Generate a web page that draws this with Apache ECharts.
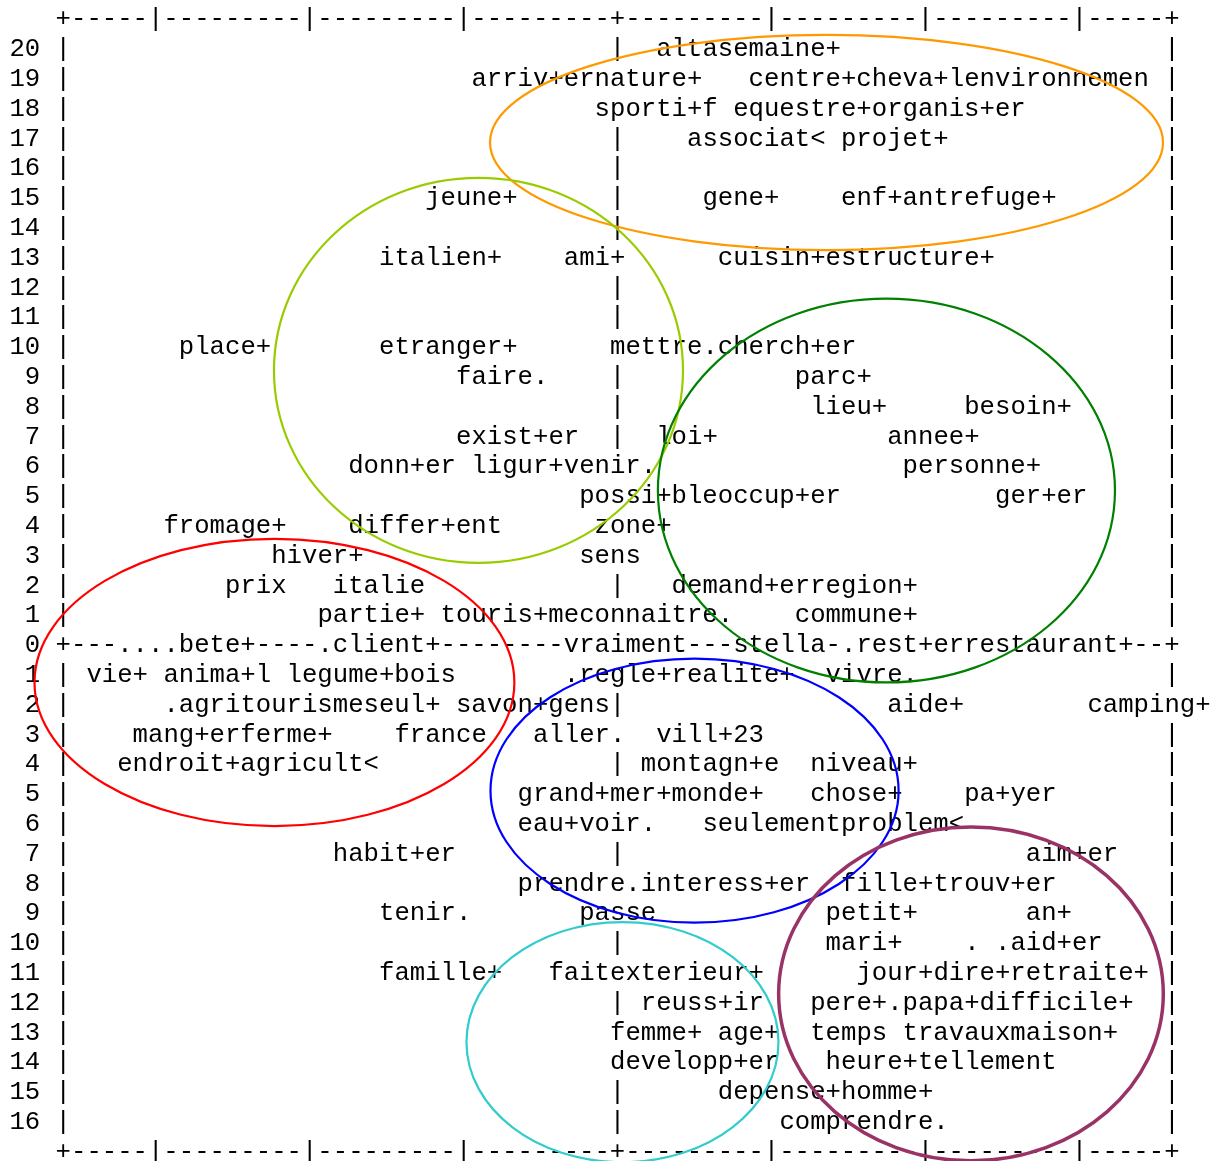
<!DOCTYPE html>
<html>
<head>
<meta charset="utf-8">
<script src="https://cdn.jsdelivr.net/npm/echarts@6/dist/echarts.min.js"></script>
<style>
html, body { margin: 0; padding: 0; background: #fff; }
#chart { width: 1223px; height: 1161px; }
</style>
</head>
<body>
<div id="chart"></div>
<script>
// row tick labels, top (20) to bottom (-16)
const rowValues = [20, 19, 18, 17, 16, 15, 14, 13, 12, 11, 10, 9, 8, 7, 6, 5, 4, 3, 2, 1, 0,
  -1, -2, -3, -4, -5, -6, -7, -8, -9, -10, -11, -12, -13, -14, -15, -16]
const rowLabels = ["20", "19", "18", "17", "16", "15", "14", "13", "12", "11", "10", "9", "8", "7", "6", "5", "4", "3", "2", "1", "0",
  "1", "2", "3", "4", "5", "6", "7", "8", "9", "10", "11", "12", "13", "14", "15", "16"]

// words: [text, column, row]
const words = [
  ["altasemaine+", 42, 20],
  ["arriv+ernature+", 30, 19], ["centre+cheva+lenvironnemen", 48, 19],
  ["sporti+f equestre+organis+er", 38, 18],
  ["associat< projet+", 44, 17],
  ["jeune+", 27, 15], ["gene+", 45, 15], ["enf+antrefuge+", 54, 15],
  ["italien+", 24, 13], ["ami+", 36, 13], ["cuisin+estructure+", 46, 13],
  ["place+", 11, 10], ["etranger+", 24, 10], ["mettre.cherch+er", 39, 10],
  ["faire.", 29, 9], ["parc+", 51, 9],
  ["lieu+", 52, 8], ["besoin+", 62, 8],
  ["exist+er", 29, 7], ["loi+", 42, 7], ["annee+", 57, 7],
  ["donn+er ligur+venir.", 22, 6], ["personne+", 58, 6],
  ["possi+bleoccup+er", 37, 5], ["ger+er", 64, 5],
  ["fromage+", 10, 4], ["differ+ent", 22, 4], ["zone+", 38, 4],
  ["hiver+", 17, 3], ["sens", 37, 3],
  ["prix", 14, 2], ["italie", 21, 2], ["demand+erregion+", 43, 2],
  ["partie+", 20, 1], ["touris+meconnaitre.", 28, 1], ["commune+", 51, 1],
  ["....bete+", 7, 0], [".client+", 20, 0], ["vraiment", 36, 0], ["stella", 47, 0], [".rest+errestaurant+", 54, 0],
  ["vie+ anima+l legume+bois", 5, -1], [".regle+realite+", 36, -1], ["vivre.", 53, -1],
  [".agritourismeseul+ savon+gens", 10, -2], ["aide+", 57, -2], ["camping+", 70, -2],
  ["mang+erferme+", 8, -3], ["france", 25, -3], ["aller.", 34, -3], ["vill+23", 42, -3],
  ["endroit+agricult<", 7, -4], ["montagn+e", 41, -4], ["niveau+", 52, -4],
  ["grand+mer+monde+", 33, -5], ["chose+", 52, -5], ["pa+yer", 62, -5],
  ["eau+voir.", 33, -6], ["seulementproblem<", 45, -6],
  ["habit+er", 21, -7], ["aim+er", 66, -7],
  ["prendre.interess+er", 33, -8], ["fille+trouv+er", 54, -8],
  ["tenir.", 24, -9], ["passe", 37, -9], ["petit+", 53, -9], ["an+", 66, -9],
  ["mari+", 53, -10], [". .aid+er", 62, -10],
  ["famille+", 24, -11], ["faitexterieur+", 35, -11], ["jour+dire+retraite+", 55, -11],
  ["reuss+ir", 41, -12], ["pere+.papa+difficile+", 52, -12],
  ["femme+ age+", 39, -13], ["temps travauxmaison+", 52, -13],
  ["developp+er", 39, -14], ["heure+tellement", 53, -14],
  ["depense+homme+", 46, -15],
  ["comprendre.", 50, -16],
]

// class ellipses: centre [col, row], radii [cols, rows]
const classCentres = [[53.06, 16.88], [30.46, 9.23], [56.95, 5.2], [17.21, -1.24], [44.49, -4.87], [39.81, -13.31], [62.44, -11.69]]
const classRadii = [[21.85, 3.61], [13.28, 6.46], [14.84, 6.44], [15.58, 4.82], [13.25, 4.43], [10.13, 4.03], [12.49, 5.6]]
const classColors = ["#ff9900", "#99cc00", "#008000", "#ff0000", "#0000ff", "#33cccc", "#993366"]
const classWidths = [2.2, 2.2, 2.2, 2.2, 2.2, 2.2, 3.5]

const borderLine = "+-----|---------|---------|---------+---------|---------|---------|-----+"
const FIRST_COL = 3
const LAST_COL = 75
const MID_COL = 39
const TOP_ROW = 21
const BOTTOM_ROW = -17

const FONT = "'Liberation Mono', 'Courier New', monospace"
const FONT_SIZE = 25.67
const CW = 15.4
const RH = 29.8

// frame characters, then blanked where a word overwrites them
const frame = {}
rowValues.forEach((r) => {
  const n = LAST_COL - FIRST_COL + 1
  const arr = new Array(n).fill(r === 0 ? "-" : " ")
  arr[0] = r === 0 ? "+" : "|"
  arr[n - 1] = r === 0 ? "+" : "|"
  arr[MID_COL - FIRST_COL] = r === 0 ? "+" : "|"
  frame[r] = arr
})
words.forEach(([t, c, r]) => {
  for (let i = 0; i < t.length; i++) {
    const k = c + i - FIRST_COL
    if (frame[r] && k >= 0 && k < frame[r].length) frame[r][k] = " "
  }
})
const frameData = [
  { name: borderLine, value: [FIRST_COL, TOP_ROW] },
  { name: borderLine, value: [FIRST_COL, BOTTOM_ROW] },
]
rowValues.forEach((r) => frameData.push({ name: frame[r].join(""), value: [FIRST_COL, r] }))

const textLabel = {
	show: true,
	position: "right",
	distance: 0,
	formatter: (p) => p.name,
	color: "#000",
	opacity: 1,
	fontFamily: FONT,
	fontSize: FONT_SIZE,
	align: "left",
	verticalAlign: "middle",
}

const option = {
	backgroundColor: "#fff",
	animation: false,
	grid: {
		left: 9.4 + 2 * CW,
		top: 49.5 - RH,
		width: 76 * CW,
		height: 38 * RH,
	},
	xAxis: { type: "value", min: 2, max: 78, show: false },
	yAxis: {
		type: "value",
		min: BOTTOM_ROW,
		max: TOP_ROW,
		interval: 1,
		axisLine: { show: false },
		axisTick: { show: false },
		splitLine: { show: false },
		axisLabel: {
			margin: 0,
			color: "#000",
			fontFamily: FONT,
			fontSize: FONT_SIZE,
			formatter: (v) => {
				const i = rowValues.indexOf(v)
				return i >= 0 ? rowLabels[i] : ""
			},
		},
	},
	series: [
		{
			type: "scatter",
			silent: true,
			symbolSize: 0,
			itemStyle: { opacity: 1 },
			data: frameData,
			label: textLabel,
			z: 2,
		},
		{
			type: "scatter",
			silent: true,
			symbolSize: 0,
			itemStyle: { opacity: 1 },
			data: words.map(([t, c, r]) => ({ name: t, value: [c, r] })),
			label: textLabel,
			z: 3,
		},
		{
			type: "custom",
			silent: true,
			clip: false,
			z: 5,
			data: classCentres.map((c, i) => [c[0], c[1], classRadii[i][0], classRadii[i][1]]),
			renderItem: (params, api) => {
				const p = api.coord([api.value(0), api.value(1)])
				const s = api.size([api.value(2), api.value(3)])
				return {
					type: "ellipse",
					shape: { cx: p[0], cy: p[1], rx: s[0], ry: s[1] },
					style: {
						fill: "none",
						stroke: classColors[params.dataIndex],
						lineWidth: classWidths[params.dataIndex],
					},
				}
			},
		},
	],
}

const chart = echarts.init(document.getElementById("chart"))
chart.setOption(option)
</script>
</body>
</html>
